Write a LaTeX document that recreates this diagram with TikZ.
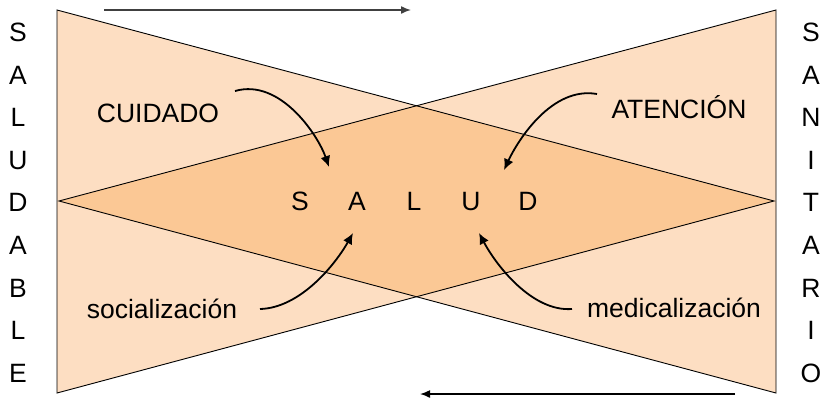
\documentclass[tikz,border=0pt]{standalone}
\usepackage{fontspec}
\setmainfont{Liberation Sans}
\usetikzlibrary{arrows.meta}
\definecolor{peach}{HTML}{FDDEC2}
\definecolor{apricot}{HTML}{FBC895}
\tikzset{
  txt/.style={font=\fontsize{26.5}{30}\selectfont, inner sep=0pt},
  letter/.style={txt, anchor=base, yshift=-9.5pt},
  curvearrow/.style={line width=1.8pt, -{Latex[length=11pt,width=10pt]}},
  flowarrow/.style={line width=1.5pt, -{Latex[length=10pt,width=8pt]}}
}
\begin{document}
\begin{tikzpicture}[x=1pt,y=-1pt]
\useasboundingbox (0,0) rectangle (821,400);

% triangulos
\coordinate (L1) at (57,10);
\coordinate (L2) at (57,393);
\coordinate (La) at (774,201);
\coordinate (R1) at (776,10);
\coordinate (R2) at (776,393);
\coordinate (Ra) at (59,201);

\fill[peach] (L1) -- (L2) -- (La) -- cycle;
\fill[peach] (R1) -- (R2) -- (Ra) -- cycle;
\begin{scope}
\clip (L1) -- (L2) -- (La) -- cycle;
\fill[apricot] (R1) -- (R2) -- (Ra) -- cycle;
\end{scope}
\draw[line width=0.9pt] (L1) -- (L2) -- (La) -- cycle;
\draw[line width=0.9pt] (R1) -- (R2) -- (Ra) -- cycle;

% columnas
\foreach \c [count=\i from 0] in {S,A,L,U,D,A,B,L,E}
  \node[letter] (izq\i) at (18,{32+42.6*\i}) {\c};
\foreach \c [count=\i from 0] in {S,A,N,I,T,A,R,I,O}
  \node[letter] (der\i) at (811,{32+42.6*\i}) {\c};

% SALUD
\foreach \c [count=\i from 0] in {S,A,L,U,D}
  \node[letter] (s\i) at ({300+57*\i},201) {\c};

\node[txt] (cuidado) at (158,113) {CUIDADO};
\node[txt] (atencion) at (679,107) {ATENCIÓN};
\node[txt] (social) at (162,309) {socialización};
\node[txt] (medical) at (674,308) {medicalización};

\coordinate (c1) at (235,91);
\coordinate (c2) at (597,94);
\coordinate (c3) at (260,309);
\coordinate (c4) at (572,309);

\draw[curvearrow] (c1) .. controls (280,78) and (318,135) .. (329,167);
\draw[curvearrow] (c2) .. controls (552,86) and (518,140) .. (504,170);
\draw[curvearrow] (c3) .. controls (300,308) and (335,265) .. (353,233);
\draw[curvearrow] (c4) .. controls (532,312) and (496,265) .. (479,233);

% flechas
\coordinate (t1) at (104,10);
\coordinate (t2) at (411,10);
\coordinate (b1) at (735,394);
\coordinate (b2) at (420,394);
\draw[flowarrow, draw=black!75] (t1) -- (t2);
\draw[flowarrow] (b1) -- (b2);
\end{tikzpicture}
\end{document}
